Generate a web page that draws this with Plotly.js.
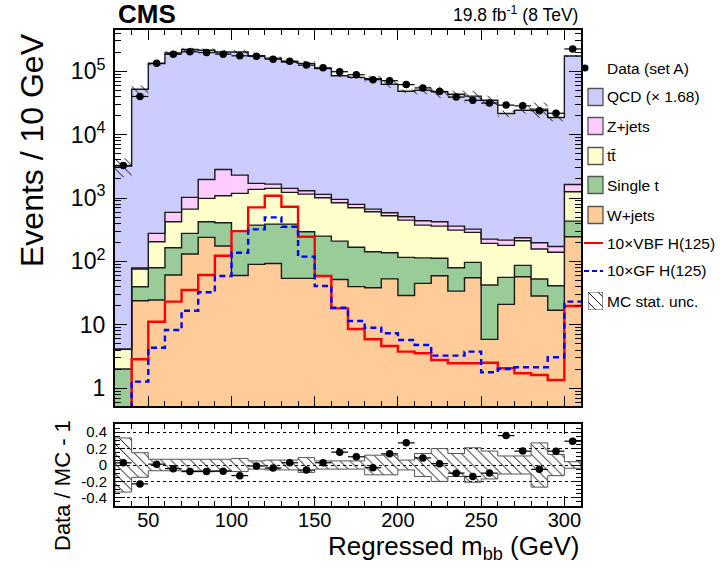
<!DOCTYPE html>
<html>
<head>
<meta charset="utf-8">
<script src="https://cdn.plot.ly/plotly-3.0.1.min.js"></script>
<style>html,body{margin:0;padding:0;background:#fff}#chart{width:720px;height:570px}</style>
</head>
<body>
<div id="chart"></div>
<script>
// ---------- data ----------
const binEdges = [30,40,50,60,70,80,90,100,110,120,130,140,150,160,170,180,190,200,210,220,230,240,250,260,270,280,290,300,310];

const wjets = [0.3,24.0,24.6,61,131,240,175,60,90,93,54,54,59.5,52,40,38.5,53,29,45,59.5,34,55.4,5.9,21,57.4,28.5,17,245];
const singleTop = [1.71,15.9,54.9,103,146,182,232,241,284,295,334,240,191.5,157,127,103.5,84,87,69,52.5,45.5,41.4,36.6,35,29.4,24.3,24.4,188];
const ttbar = [2.11,36.0,124.5,258,392,564,677,882,993,1030,839,859,758,632,535,465,388,333,260,249,232,190,150.5,123,125,104,98,822];
const zjets = [0.05,2.8,73,171,354,979,1741,1114,333,239,191,147,131,110,91,62,60,57,64,61,49,37,32,38,24,40,33,382];
const qcd = [3181,51900,131700,193400,219000,212000,198200,198700,173300,159300,138600,131700,108900,83950,79200,75300,61800,47900,49760,46780,43040,40080,34680,21280,24060,25000,18430,172360];

const vbf = [0.1,2.87,11.2,23.2,35.4,61,123,301,711,1084,728,245,58.9,18.2,8.6,5.92,4.64,3.78,3.56,2.79,2.48,2.48,2.53,2.07,1.72,1.62,1.35,19.8];
const ggf = [0.1,1.27,4.36,8.3,16.7,32.6,58.9,137,320,495,352,119,40.9,18.6,11.5,9.0,7.36,5.77,4.81,3.27,3.27,3.78,1.79,2.01,2.14,2.14,3.08,23.2];

const dataA = [3270,40000,133300,185300,202400,196900,185900,174900,172900,155000,143900,124800,113100,98230,88000,73490,70890,61470,54520,47960,39100,34740,31450,29200,28410,23860,21740,224500];

const mcRelUnc = [0.33,0.15,0.07,0.07,0.07,0.07,0.07,0.08,0.05,0.06,0.06,0.09,0.05,0.05,0.05,0.12,0.12,0.06,0.14,0.2,0.14,0.21,0.17,0.11,0.11,0.27,0.13,0.04];

const legendLabels = ['Data (set A)','QCD (\u00d7 1.68)','Z+jets','tt\u0304','Single t','W+jets','10\u00d7VBF H(125)','10\u00d7GF H(125)','MC stat. unc.'];

// ---------- styles ----------
const FONT = 'Liberation Sans, Arial, Helvetica, sans-serif';
const colQCD = '#ccccff', colZ = '#ffccff', colTT = '#ffffcc', colST = '#99cc99', colW = '#ffcc99';
const W = 720, H = 570;
const px = x => x / W, py = y => 1 - y / H;

// ---------- derived ----------
const nb = binEdges.length - 1;
const centers = binEdges.slice(0, nb).map((e, i) => (e + binEdges[i + 1]) / 2);
const step = v => v.concat([v[v.length - 1]]);
const cum = (...arrs) => arrs[0].map((_, i) => arrs.reduce((s, a) => s + a[i], 0));
const c1 = cum(wjets);
const c2 = cum(wjets, singleTop);
const c3 = cum(wjets, singleTop, ttbar);
const c4 = cum(wjets, singleTop, ttbar, zjets);
const total = cum(wjets, singleTop, ttbar, zjets, qcd);
const ratio = dataA.map((d, i) => d / total[i] - 1);

const hatch = {shape: '\\', fgcolor: '#000', bgcolor: 'rgba(0,0,0,0)', size: 7, solidity: 0.14};

function stackTrace(vals, color) {
  return {type: 'scatter', mode: 'lines', x: binEdges, y: step(vals),
    line: {shape: 'hv', color: '#1a1a1a', width: 1.4},
    fill: 'tonexty', fillcolor: color, xaxis: 'x', yaxis: 'y', showlegend: false, hoverinfo: 'skip'};
}
function bandPoly(lo, hi) {
  const xs = [], ys1 = [], ys2 = [];
  for (let i = 0; i < nb; i++) {
    xs.push(binEdges[i], binEdges[i + 1]);
    ys1.push(hi[i], hi[i]);
    ys2.push(lo[i], lo[i]);
  }
  return {x: xs.concat(xs.slice().reverse()).concat([xs[0]]), y: ys1.concat(ys2.slice().reverse()).concat([ys1[0]])};
}

const topBand = bandPoly(total.map((t, i) => t * (1 - mcRelUnc[i])), total.map((t, i) => t * (1 + mcRelUnc[i])));
const ratBand = bandPoly(mcRelUnc.map(u => -u), mcRelUnc.map(u => u));

const traces = [
  {type: 'scatter', mode: 'lines', x: binEdges, y: binEdges.map(() => 1e-3), line: {width: 0}, xaxis: 'x', yaxis: 'y', showlegend: false, hoverinfo: 'skip'},
  stackTrace(c1, colW),
  stackTrace(c2, colST),
  stackTrace(c3, colTT),
  stackTrace(c4, colZ),
  stackTrace(total, colQCD),
  {type: 'scatter', mode: 'lines', x: binEdges, y: step(vbf), line: {shape: 'hv', color: '#ff0000', width: 2.4}, xaxis: 'x', yaxis: 'y', showlegend: false},
  {type: 'scatter', mode: 'lines', x: binEdges, y: step(ggf), line: {shape: 'hv', color: '#0000ff', width: 2.4, dash: '6px,4px'}, xaxis: 'x', yaxis: 'y', showlegend: false},
  {type: 'scatter', mode: 'lines', x: topBand.x, y: topBand.y, fill: 'toself', fillcolor: 'rgba(0,0,0,0)', fillpattern: hatch, line: {width: 0}, xaxis: 'x', yaxis: 'y', showlegend: false},
  {type: 'scatter', mode: 'markers', x: centers, y: dataA, marker: {color: '#000', size: 7.5},
    error_x: {type: 'constant', value: 5, width: 0, thickness: 1.2, color: '#000'}, xaxis: 'x', yaxis: 'y', showlegend: false},
  {type: 'scatter', mode: 'lines', x: ratBand.x, y: ratBand.y, fill: 'toself', fillcolor: 'rgba(0,0,0,0)', fillpattern: hatch, line: {width: 1, color: '#555'}, xaxis: 'x2', yaxis: 'y2', showlegend: false},
  {type: 'scatter', mode: 'markers', x: centers, y: ratio, marker: {color: '#000', size: 7.5},
    error_x: {type: 'constant', value: 5, width: 0, thickness: 1.2, color: '#000'}, xaxis: 'x2', yaxis: 'y2', showlegend: false},
  // legend swatch for the hatched band
  {type: 'scatter', mode: 'lines', x: [0, 1, 1, 0, 0], y: [0, 0, 1, 1, 0], fill: 'toself', fillcolor: 'rgba(0,0,0,0)', fillpattern: hatch, line: {width: 1.2, color: '#555'}, xaxis: 'x3', yaxis: 'y3', showlegend: false}
];

// ---------- legend (manual, matching ROOT style) ----------
const legendY = [68, 97, 126, 156, 185, 215, 243, 271, 301];
const boxColors = [null, colQCD, colZ, colTT, colST, colW];
const shapes = [];
const annotations = [];
legendLabels.forEach((lab, i) => {
  annotations.push({xref: 'paper', yref: 'paper', x: px(605), y: py(legendY[i]), xanchor: 'left', yanchor: 'middle',
    text: lab, showarrow: false, font: {family: FONT, size: 15.5, color: '#000'}});
});
shapes.push({type: 'circle', xref: 'paper', yref: 'paper', x0: px(581.5), x1: px(588.5), y0: py(legendY[0] + 3.5), y1: py(legendY[0] - 3.5), fillcolor: '#000', line: {width: 0}});
for (let i = 1; i <= 5; i++) {
  shapes.push({type: 'rect', xref: 'paper', yref: 'paper', x0: px(588), x1: px(603), y0: py(legendY[i] + 8.5), y1: py(legendY[i] - 8.5), fillcolor: boxColors[i], line: {color: '#555', width: 1.3}});
}
shapes.push({type: 'line', xref: 'paper', yref: 'paper', x0: px(584), x1: px(603), y0: py(legendY[6]), y1: py(legendY[6]), line: {color: '#ff0000', width: 2}});
shapes.push({type: 'line', xref: 'paper', yref: 'paper', x0: px(584), x1: px(603), y0: py(legendY[7]), y1: py(legendY[7]), line: {color: '#0000ff', width: 2, dash: '5px,3px'}});

// titles
annotations.push({xref: 'paper', yref: 'paper', x: px(116), y: py(14), xanchor: 'left', yanchor: 'middle', text: '<b>CMS</b>', showarrow: false, font: {family: FONT, size: 26, color: '#000'}});
annotations.push({xref: 'paper', yref: 'paper', x: px(580), y: py(14), xanchor: 'right', yanchor: 'middle', text: '19.8 fb<sup>-1</sup> (8 TeV)', showarrow: false, font: {family: FONT, size: 17.5, color: '#000'}});
annotations.push({xref: 'paper', yref: 'paper', x: px(32), y: py(150), xanchor: 'center', yanchor: 'middle', textangle: -90, text: 'Events / 10 GeV', showarrow: false, font: {family: FONT, size: 32, color: '#000'}});
annotations.push({xref: 'paper', yref: 'paper', x: px(62), y: py(486), xanchor: 'center', yanchor: 'middle', textangle: -90, text: 'Data / MC - 1', showarrow: false, font: {family: FONT, size: 22, color: '#000'}});
annotations.push({xref: 'paper', yref: 'paper', x: px(581), y: py(547), xanchor: 'right', yanchor: 'middle', text: 'Regressed m<sub>bb</sub> (GeV)', showarrow: false, font: {family: FONT, size: 26, color: '#000'}});

const xDom = [px(115), px(581)];
const axBase = {showline: true, linecolor: '#000', linewidth: 2, mirror: 'ticks', ticks: 'inside', tickcolor: '#000', showgrid: false, zeroline: false, fixedrange: true};

const layout = {
  width: W, height: H, autosize: false,
  margin: {l: 0, r: 0, t: 0, b: 0},
  paper_bgcolor: '#fff', plot_bgcolor: '#fff',
  showlegend: false,
  font: {family: FONT, color: '#000'},
  xaxis: Object.assign({}, axBase, {domain: xDom, anchor: 'y', range: [30, 310], tick0: 0, dtick: 50, ticklen: 10, tickwidth: 1,
    showticklabels: false, minor: {ticks: 'inside', ticklen: 5, dtick: 10, tick0: 0, tickcolor: '#000', showgrid: false}}),
  yaxis: Object.assign({}, axBase, {domain: [py(406), py(30)], anchor: 'x', type: 'log', range: [-0.28, 5.65],
    tickmode: 'array', tickvals: [1, 10, 100, 1e3, 1e4, 1e5],
    ticktext: ['1', '10', '10<sup>2</sup>', '10<sup>3</sup>', '10<sup>4</sup>', '10<sup>5</sup>'],
    ticklen: 12, tickwidth: 1, tickfont: {family: FONT, size: 23, color: '#000'}, ticklabelstandoff: 3,
    minor: {ticks: 'inside', ticklen: 6, dtick: 'D1', tickcolor: '#000', showgrid: false}}),
  xaxis2: Object.assign({}, axBase, {domain: xDom, anchor: 'y2', range: [30, 310], tick0: 0, dtick: 50, ticklen: 10, tickwidth: 1,
    tickfont: {family: FONT, size: 20, color: '#000'}, ticklabelstandoff: -5,
    minor: {ticks: 'inside', ticklen: 5, dtick: 10, tick0: 0, tickcolor: '#000', showgrid: false}}),
  yaxis2: Object.assign({}, axBase, {domain: [py(506), py(424)], anchor: 'x2', range: [-0.5, 0.5],
    tickmode: 'array', tickvals: [-0.4, -0.2, 0, 0.2, 0.4], ticktext: ['-0.4', '-0.2', '0', '0.2', '0.4'],
    ticklen: 10, tickwidth: 1, tickfont: {family: FONT, size: 15, color: '#000'}, ticklabelstandoff: 3,
    showgrid: true, gridcolor: '#000', gridwidth: 1, griddash: 'dot',
    minor: {ticks: 'inside', ticklen: 5, dtick: 0.05, tick0: 0, tickcolor: '#000', showgrid: false}}),
  xaxis3: {domain: [px(588), px(603)], anchor: 'y3', range: [0, 1], visible: false, fixedrange: true},
  yaxis3: {domain: [py(legendY[8] + 9), py(legendY[8] - 9)], anchor: 'x3', range: [0, 1], visible: false, fixedrange: true},
  shapes: shapes,
  annotations: annotations
};

Plotly.newPlot('chart', traces, layout, {staticPlot: true, displayModeBar: false});
</script>
</body>
</html>
